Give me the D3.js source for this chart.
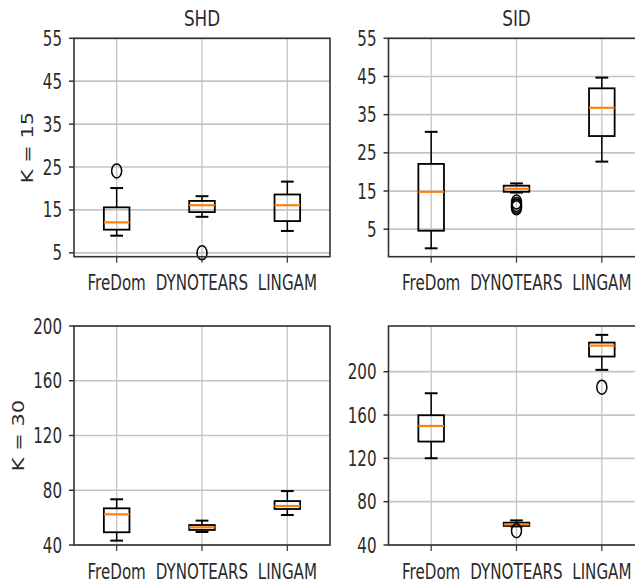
<!DOCTYPE html>
<html>
<head>
<meta charset="utf-8">
<script src="https://cdn.jsdelivr.net/npm/d3@7/dist/d3.min.js"></script>
<style>
  body { margin: 0; background: #fff; }
  text { font-family: "DejaVu Sans", sans-serif; fill: #2b2b2b; }
</style>
</head>
<body>
<div id="chart"></div>
<script>
// categories / labels
var methods = ["FreDom", "DYNOTEARS", "LINGAM"];
var metrics = ["SHD", "SID"];
var kLabels = ["K = 15", "K = 30"];

// tick labels
var k15Ticks = [5, 15, 25, 35, 45, 55];
var k30Ticks = [40, 80, 120, 160, 200];

// box stats per method: [whisker low, q1, median, q3, whisker high]
var shdK15 = [[9.0, 10.4, 12.1, 15.6, 20.1], [13.4, 14.5, 16.1, 17.1, 18.2], [10.1, 12.4, 16.1, 18.6, 21.6]];
var shdK15Fliers = [[24.1], [5.0], []];
var sidK15 = [[0.0, 4.6, 14.8, 22.1, 30.5], [14.6, 14.8, 15.6, 16.4, 17.0], [22.7, 29.4, 36.8, 41.9, 44.7]];
var sidK15Fliers = [[], [12.1, 11.5, 11.0, 10.6], []];
var shdK30 = [[43.2, 49.3, 62.4, 66.8, 73.4], [49.5, 51.0, 52.9, 54.6, 57.8], [61.9, 66.3, 68.5, 72.1, 79.4]];
var shdK30Fliers = [[], [], []];
var sidK30 = [[120.1, 135.5, 149.9, 159.8, 180.1], [57.2, 57.6, 59.0, 60.6, 62.7], [201.7, 214.0, 224.1, 226.9, 234.0]];
var sidK30Fliers = [[], [53.2], [185.7]];

var panels = [
  {row: 0, col: 0, stats: shdK15, fliers: shdK15Fliers, ticks: k15Ticks, domain: [4.1, 55]},
  {row: 0, col: 1, stats: sidK15, fliers: sidK15Fliers, ticks: k15Ticks, domain: [-2.2, 55]},
  {row: 1, col: 0, stats: shdK30, fliers: shdK30Fliers, ticks: k30Ticks, domain: [40, 200]},
  {row: 1, col: 1, stats: sidK30, fliers: sidK30Fliers, ticks: k30Ticks, domain: [40, 242.2]}
];

var W = 635, H = 583;
var colX = [[74, 330], [388.5, 644.5]];
var rowY = [[38.3, 256.7], [326, 545]];
var fontSize = 21, squeeze = 0.72; // picture is squeezed sideways

var svg = d3.select("#chart").append("svg")
  .attr("width", W).attr("height", H);
svg.append("rect").attr("width", W).attr("height", H).attr("fill", "#fff");

function putText(g, x, y, txt, anchor, size, sx, rot) {
  return g.append("text")
    .attr("transform", "translate(" + x + "," + y + ") scale(" + sx + ",1)" + (rot ? " rotate(" + rot + ")" : ""))
    .attr("text-anchor", anchor)
    .attr("dy", "0.36em")
    .style("font-size", size + "px")
    .text(txt);
}

panels.forEach(function(p) {
  var x0 = colX[p.col][0], x1 = colX[p.col][1];
  var y0 = rowY[p.row][0], y1 = rowY[p.row][1];
  var xScale = d3.scalePoint().domain(methods).range([x0, x1]).padding(0.5);
  var yScale = d3.scaleLinear().domain(p.domain).range([y1, y0]);
  var g = svg.append("g");
  var bw = (x1 - x0) / 3 * 0.3;

  // grid
  g.selectAll(".hgrid").data(p.ticks).enter().append("line")
    .attr("x1", x0).attr("x2", x1)
    .attr("y1", function(d) { return yScale(d); }).attr("y2", function(d) { return yScale(d); })
    .attr("stroke", "#c4c4c4").attr("stroke-width", 1.7);
  g.selectAll(".vgrid").data(methods).enter().append("line")
    .attr("x1", function(d) { return xScale(d); }).attr("x2", function(d) { return xScale(d); })
    .attr("y1", y0).attr("y2", y1)
    .attr("stroke", "#c4c4c4").attr("stroke-width", 1.3);

  // boxes
  methods.forEach(function(m, i) {
    var s = p.stats[i], cx = xScale(m);
    var bx = g.append("g");
    bx.append("line").attr("x1", cx).attr("x2", cx).attr("y1", yScale(s[0])).attr("y2", yScale(s[1]))
      .attr("stroke", "#000").attr("stroke-width", 1.5);
    bx.append("line").attr("x1", cx).attr("x2", cx).attr("y1", yScale(s[3])).attr("y2", yScale(s[4]))
      .attr("stroke", "#000").attr("stroke-width", 1.5);
    [s[0], s[4]].forEach(function(v) {
      bx.append("line").attr("x1", cx - bw / 4).attr("x2", cx + bw / 4)
        .attr("y1", yScale(v)).attr("y2", yScale(v))
        .attr("stroke", "#000").attr("stroke-width", 2);
    });
    bx.append("rect").attr("x", cx - bw / 2).attr("width", bw)
      .attr("y", yScale(s[3])).attr("height", yScale(s[1]) - yScale(s[3]))
      .attr("fill", "none").attr("stroke", "#000").attr("stroke-width", 1.8);
    bx.append("line").attr("x1", cx - bw / 2).attr("x2", cx + bw / 2)
      .attr("y1", yScale(s[2])).attr("y2", yScale(s[2]))
      .attr("stroke", "#ff7f0e").attr("stroke-width", 2.2);
    bx.selectAll("ellipse").data(p.fliers[i]).enter().append("ellipse")
      .attr("cx", cx).attr("cy", function(d) { return yScale(d); })
      .attr("rx", 5).attr("ry", 7)
      .attr("fill", "none").attr("stroke", "#000").attr("stroke-width", 1.5);
  });

  // spines
  g.append("rect").attr("x", x0).attr("y", y0).attr("width", x1 - x0).attr("height", y1 - y0)
    .attr("fill", "none").attr("stroke", "#333").attr("stroke-width", 1.6);

  // y ticks
  var minLeft = x0;
  p.ticks.forEach(function(t) {
    g.append("line").attr("x1", x0 - 5).attr("x2", x0).attr("y1", yScale(t)).attr("y2", yScale(t))
      .attr("stroke", "#333").attr("stroke-width", 1.5);
    var tx = putText(g, x0 - 12, yScale(t), t, "end", fontSize, squeeze);
    minLeft = Math.min(minLeft, tx.node().getBoundingClientRect().left);
  });
  // x ticks
  methods.forEach(function(m) {
    g.append("line").attr("x1", xScale(m)).attr("x2", xScale(m)).attr("y1", y1).attr("y2", y1 + 6)
      .attr("stroke", "#333").attr("stroke-width", 1.2);
    putText(g, xScale(m), y1 + 26, m, "middle", fontSize, squeeze);
  });

  if (p.row === 0) {
    putText(g, (x0 + x1) / 2, 18.5, metrics[p.col], "middle", 21, 0.8);
  }
  if (p.col === 0) {
    putText(g, minLeft - 15, (y0 + y1) / 2, kLabels[p.row], "middle", fontSize, squeeze, -90);
  }
});
</script>
</body>
</html>
